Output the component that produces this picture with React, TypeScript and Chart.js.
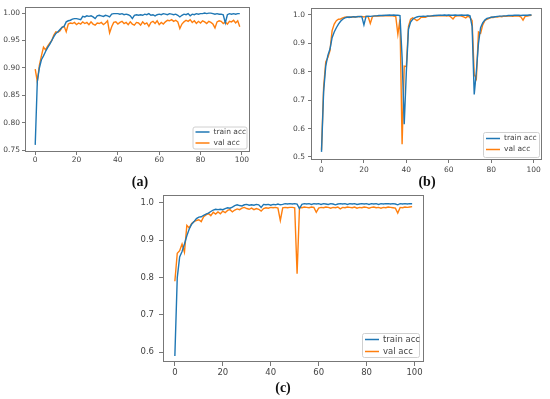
import { useEffect, useRef } from "react";
import { Chart, registerables } from "chart.js";

Chart.register(...registerables);

const epochs = Array.from({ length: 100 }, (_, i) => i);
const xTicks = [0, 20, 40, 60, 80, 100];
const aYTicks = [0.75, 0.8, 0.85, 0.9, 0.95, 1.0];
const bYTicks = [0.5, 0.6, 0.7, 0.8, 0.9, 1.0];
const cYTicks = [0.6, 0.7, 0.8, 0.9, 1.0];
const seriesLabels = ["train acc", "val acc"];
const panelLabels = ["(a)", "(b)", "(c)"];

const aTrain = [
  0.76, 0.875, 0.9, 0.915, 0.922, 0.93, 0.937, 0.943, 0.95, 0.957,
  0.963, 0.966, 0.97, 0.974, 0.976, 0.984, 0.986, 0.987, 0.989, 0.99,
  0.99, 0.989, 0.988, 0.994, 0.993, 0.995, 0.994, 0.995, 0.993, 0.99,
  0.995, 0.996, 0.995, 0.994, 0.996, 0.995, 0.993, 0.998, 0.999, 0.999,
  0.999, 0.998, 0.999, 0.997, 0.998, 0.997, 0.995, 0.99, 0.996, 0.997,
  0.996, 0.997, 0.996, 0.998, 0.997, 0.999, 0.996, 0.997, 0.995, 0.997,
  0.998, 0.997, 0.999, 0.998, 0.997, 0.999, 0.998, 0.997, 0.998, 0.996,
  0.993, 0.996, 0.998, 0.997, 0.999, 0.995, 0.998, 0.997, 0.999, 0.998,
  0.999, 0.999, 1.0, 0.999, 1.0, 1.0, 0.999, 0.998, 0.999, 0.998,
  0.998, 0.997, 0.982, 0.997, 0.999, 0.998, 0.999, 0.998, 0.999, 0.999,
];
const aVal = [
  0.898, 0.875, 0.905, 0.922, 0.938, 0.933, 0.94, 0.945, 0.95, 0.96,
  0.966, 0.965, 0.968, 0.974, 0.976, 0.966, 0.98, 0.982, 0.981, 0.983,
  0.979, 0.982, 0.98, 0.984, 0.981, 0.983, 0.979, 0.984, 0.98, 0.978,
  0.982, 0.981, 0.983, 0.979, 0.982, 0.986, 0.964, 0.975, 0.983, 0.984,
  0.98, 0.983, 0.985, 0.981, 0.983, 0.979, 0.984, 0.98, 0.978, 0.983,
  0.982, 0.978, 0.984, 0.98, 0.982, 0.976, 0.983, 0.985, 0.981, 0.986,
  0.979, 0.983, 0.98, 0.984, 0.987, 0.986, 0.988, 0.985, 0.987, 0.984,
  0.972, 0.98, 0.984, 0.987, 0.985, 0.988, 0.983, 0.986, 0.981, 0.985,
  0.982, 0.986, 0.984, 0.981, 0.985, 0.983, 0.98, 0.973, 0.984, 0.986,
  0.985, 0.981, 0.984, 0.98, 0.985, 0.984, 0.987, 0.982, 0.986, 0.975,
];
const bTrain = [
  0.518, 0.73, 0.82, 0.858, 0.88, 0.92, 0.94, 0.955, 0.968, 0.978,
  0.985, 0.99, 0.992, 0.993, 0.992, 0.994, 0.993, 0.994, 0.995, 0.994,
  0.965, 0.995, 0.996, 0.995, 0.996, 0.997, 0.997, 0.998, 0.998, 0.998,
  0.999, 0.999, 1.0, 0.999, 1.0, 0.999, 0.999, 0.998, 0.85, 0.615,
  0.8, 0.95, 0.975, 0.985, 0.99, 0.993, 0.995, 0.995, 0.996, 0.995,
  0.997, 0.996, 0.997, 0.998, 0.998, 0.999, 0.999, 0.999, 1.0, 0.999,
  1.0, 0.999, 0.999, 1.0, 0.999, 0.999, 1.0, 0.999, 0.999, 1.0,
  0.997, 0.96, 0.72, 0.8, 0.9, 0.955, 0.972, 0.982, 0.988, 0.99,
  0.992, 0.993, 0.994, 0.995, 0.996, 0.996, 0.997, 0.997, 0.998, 0.998,
  0.998, 0.999, 0.999, 0.999, 0.998, 0.999, 0.999, 0.999, 1.0, 1.0,
];
const bVal = [
  0.525, 0.745, 0.835, 0.85, 0.875, 0.945, 0.968, 0.98, 0.985, 0.986,
  0.99, 0.992, 0.993, 0.991, 0.993, 0.994, 0.993, 0.995, 0.994, 0.995,
  0.993, 0.995, 0.994, 0.97, 0.994, 0.996, 0.997, 0.996, 0.997, 0.998,
  0.997, 0.998, 0.997, 0.998, 0.996, 0.995, 0.932, 0.985, 0.545, 0.82,
  0.818, 0.96, 0.985, 0.99, 0.985, 0.98, 0.985, 0.992, 0.993, 0.992,
  0.995, 0.996, 0.997, 0.996, 0.998, 0.997, 0.998, 0.997, 0.998, 0.996,
  0.998, 0.993, 0.986, 0.995, 0.997, 0.998, 0.996, 0.993, 0.99, 0.996,
  0.992, 0.98, 0.79, 0.775, 0.94, 0.935, 0.965, 0.98, 0.985, 0.988,
  0.992, 0.991, 0.994, 0.993, 0.995, 0.994, 0.996, 0.995, 0.996, 0.997,
  0.995, 0.996, 0.997, 0.996, 0.993, 0.982, 0.995, 0.996, 0.998, 0.999,
];
const cTrain = [
  0.59, 0.8, 0.855, 0.87, 0.89, 0.912, 0.93, 0.943, 0.95, 0.958,
  0.962, 0.963, 0.967, 0.97, 0.973, 0.977, 0.981, 0.983, 0.982, 0.983,
  0.982, 0.985, 0.987, 0.986, 0.989, 0.993, 0.995, 0.993, 0.992, 0.995,
  0.996, 0.994, 0.995, 0.994, 0.996, 0.995, 0.988, 0.996, 0.995, 0.996,
  0.994, 0.996, 0.995, 0.997, 0.995, 0.996, 0.998, 0.997, 0.998, 0.997,
  0.998, 0.997, 0.985, 0.996, 0.998, 0.997, 0.998, 0.996, 0.998, 0.997,
  0.998, 0.996, 0.998, 0.997, 0.996, 0.998, 0.997, 0.995, 0.997, 0.998,
  0.997, 0.998, 0.996, 0.998, 0.997, 0.998, 0.996, 0.997, 0.998, 0.997,
  0.998, 0.996, 0.998, 0.997, 0.998, 0.996, 0.998, 0.997, 0.998, 0.998,
  0.997, 0.998, 0.997, 0.995, 0.998, 0.997, 0.998, 0.997, 0.998, 0.998,
];
const cVal = [
  0.79, 0.865, 0.872, 0.89, 0.868, 0.94, 0.933, 0.945, 0.95, 0.953,
  0.955, 0.95, 0.963, 0.968, 0.972, 0.966, 0.975, 0.97, 0.976, 0.971,
  0.978, 0.974, 0.98, 0.982, 0.976, 0.981, 0.984, 0.982, 0.986, 0.988,
  0.985, 0.983, 0.986, 0.982, 0.985, 0.983, 0.978, 0.985, 0.987, 0.986,
  0.988, 0.987, 0.988, 0.986, 0.953, 0.987, 0.988, 0.987, 0.988, 0.988,
  0.987, 0.81, 0.988, 0.987, 0.989, 0.988, 0.987, 0.989, 0.988, 0.975,
  0.986, 0.988, 0.987, 0.989, 0.988, 0.986, 0.988, 0.987, 0.989, 0.984,
  0.988, 0.987, 0.989, 0.988, 0.987, 0.989, 0.986, 0.988, 0.987, 0.989,
  0.988, 0.986, 0.988, 0.989, 0.987, 0.988, 0.986, 0.988, 0.987, 0.989,
  0.988, 0.987, 0.986, 0.973, 0.988, 0.987, 0.989, 0.988, 0.989, 0.99,
];

const BLUE = "#1f77b4";
const ORANGE = "#ff7f0e";
const TICK_COLOR = "#444";
const FRAME_COLOR = "#777";

type Panel = {
  train: number[];
  val: number[];
  yTicks: number[];
  decimals: number;
  yMin: number;
  yMax: number;
  left: number;
  top: number;
  width: number;
  height: number;
  padTop: number;
  padRight: number;
  yAxisW: number;
  xAxisH: number;
  fontSize: number;
  tickLen: number;
  yPad: number;
  xPad: number;
  legend: { w: number; h: number; inset: number; first: number; row: number };
};

const panels: Panel[] = [
  {
    train: aTrain, val: aVal, yTicks: aYTicks, decimals: 2, yMin: 0.747, yMax: 1.012,
    left: 0, top: 0, width: 256, height: 172, padTop: 5, padRight: 6, yAxisW: 25, xAxisH: 20,
    fontSize: 7.5, tickLen: 3, yPad: 2, xPad: 1,
    legend: { w: 54, h: 22, inset: 3.5, first: 5.5, row: 11 },
  },
  {
    train: bTrain, val: bVal, yTicks: bYTicks, decimals: 1, yMin: 0.4894, yMax: 1.0246,
    left: 276, top: 0, width: 274, height: 175, padTop: 8, padRight: 8, yAxisW: 35, xAxisH: 15,
    fontSize: 7.5, tickLen: 3, yPad: 3, xPad: 3,
    legend: { w: 56, h: 25, inset: 3, first: 6.5, row: 11 },
  },
  {
    train: cTrain, val: cVal, yTicks: cYTicks, decimals: 1, yMin: 0.5737, yMax: 1.021,
    left: 120, top: 185, width: 310, height: 195, padTop: 7, padRight: 6, yAxisW: 43, xAxisH: 18,
    fontSize: 8.5, tickLen: 4, yPad: 5, xPad: 2,
    legend: { w: 57, h: 24, inset: 5, first: 6.5, row: 12 },
  },
];

const labelPos = [
  { x: 140, y: 182 },
  { x: 427, y: 182 },
  { x: 283, y: 388 },
];

const framePlugin = {
  id: "frameLegend",
  afterDraw(chart: any, _args: any, opts: any) {
    const { ctx, chartArea: a } = chart;
    ctx.save();
    ctx.strokeStyle = FRAME_COLOR;
    ctx.lineWidth = 1;
    const l = Math.round(a.left) + 0.5;
    const t = Math.round(a.top) + 0.5;
    ctx.strokeRect(l, t, Math.round(a.right) - Math.round(a.left) - 1, Math.round(a.bottom) - Math.round(a.top) - 1);

    const lg = opts.legend;
    const x0 = a.right - lg.inset - lg.w;
    const y0 = a.bottom - lg.inset - lg.h;
    ctx.beginPath();
    if (ctx.roundRect) ctx.roundRect(x0 + 0.5, y0 + 0.5, lg.w, lg.h, 2);
    else ctx.rect(x0 + 0.5, y0 + 0.5, lg.w, lg.h);
    ctx.fillStyle = "rgba(255,255,255,0.85)";
    ctx.fill();
    ctx.strokeStyle = "#d0d0d0";
    ctx.stroke();
    ctx.font = `${opts.fontSize}px "DejaVu Sans"`;
    ctx.textBaseline = "middle";
    ctx.textAlign = "left";
    chart.data.datasets.forEach((ds: any, i: number) => {
      const cy = y0 + lg.first + lg.row * i;
      ctx.strokeStyle = ds.borderColor;
      ctx.lineWidth = 1.5;
      ctx.beginPath();
      ctx.moveTo(x0 + 3, cy);
      ctx.lineTo(x0 + 17, cy);
      ctx.stroke();
      ctx.fillStyle = TICK_COLOR;
      ctx.fillText(ds.label, x0 + 21, cy);
    });
    ctx.restore();
  },
};

function PanelChart({ p }: { p: Panel }) {
  const ref = useRef<HTMLCanvasElement | null>(null);
  useEffect(() => {
    if (!ref.current) return;
    const font = { size: p.fontSize, family: "DejaVu Sans" };
    const chart = new Chart(ref.current, {
      type: "line",
      data: {
        datasets: [
          {
            label: seriesLabels[0],
            data: epochs.map((e, i) => ({ x: e, y: p.train[i] })),
            borderColor: BLUE,
            backgroundColor: BLUE,
            borderWidth: 1.4,
            pointRadius: 0,
            tension: 0,
          },
          {
            label: seriesLabels[1],
            data: epochs.map((e, i) => ({ x: e, y: p.val[i] })),
            borderColor: ORANGE,
            backgroundColor: ORANGE,
            borderWidth: 1.4,
            pointRadius: 0,
            tension: 0,
          },
        ],
      },
      options: {
        animation: false,
        responsive: false,
        devicePixelRatio: 1,
        layout: { padding: { top: p.padTop, right: p.padRight, left: 0, bottom: 0 } },
        plugins: {
          legend: { display: false },
          tooltip: { enabled: false },
          frameLegend: { legend: p.legend, fontSize: p.fontSize },
        } as any,
        scales: {
          x: {
            type: "linear",
            min: -4.95,
            max: 103.95,
            border: { display: false },
            grid: { drawOnChartArea: false, drawTicks: true, tickLength: p.tickLen, color: FRAME_COLOR },
            ticks: {
              autoSkip: false,
              maxRotation: 0,
              padding: p.xPad,
              color: TICK_COLOR,
              font,
              callback: (v: any) => String(v),
            },
            afterBuildTicks: (scale: any) => {
              scale.ticks = xTicks.map((v) => ({ value: v }));
            },
            afterFit: (scale: any) => {
              scale.height = p.xAxisH;
            },
          },
          y: {
            type: "linear",
            min: p.yMin,
            max: p.yMax,
            border: { display: false },
            grid: { drawOnChartArea: false, drawTicks: true, tickLength: p.tickLen, color: FRAME_COLOR },
            ticks: {
              autoSkip: false,
              padding: p.yPad,
              color: TICK_COLOR,
              font,
              callback: (v: any) => Number(v).toFixed(p.decimals),
            },
            afterBuildTicks: (scale: any) => {
              scale.ticks = p.yTicks.map((v) => ({ value: v }));
            },
            afterFit: (scale: any) => {
              scale.width = p.yAxisW;
            },
          },
        },
      },
      plugins: [framePlugin as any],
    });
    return () => chart.destroy();
  }, [p]);
  return (
    <canvas
      ref={ref}
      width={p.width}
      height={p.height}
      style={{ position: "absolute", left: p.left, top: p.top, width: p.width, height: p.height }}
    />
  );
}

export default function App() {
  return (
    <div style={{ position: "absolute", left: 0, top: 0, width: 550, height: 399, background: "#fff" }}>
      {panels.map((p, i) => (
        <PanelChart key={i} p={p} />
      ))}
      {panelLabels.map((t, i) => (
        <div
          key={t}
          style={{
            position: "absolute",
            left: labelPos[i].x - 20,
            top: labelPos[i].y - 9,
            width: 40,
            height: 18,
            lineHeight: "18px",
            textAlign: "center",
            fontFamily: '"Liberation Serif", serif',
            fontWeight: "bold",
            fontSize: 14,
            color: "#111",
          }}
        >
          {t}
        </div>
      ))}
    </div>
  );
}
